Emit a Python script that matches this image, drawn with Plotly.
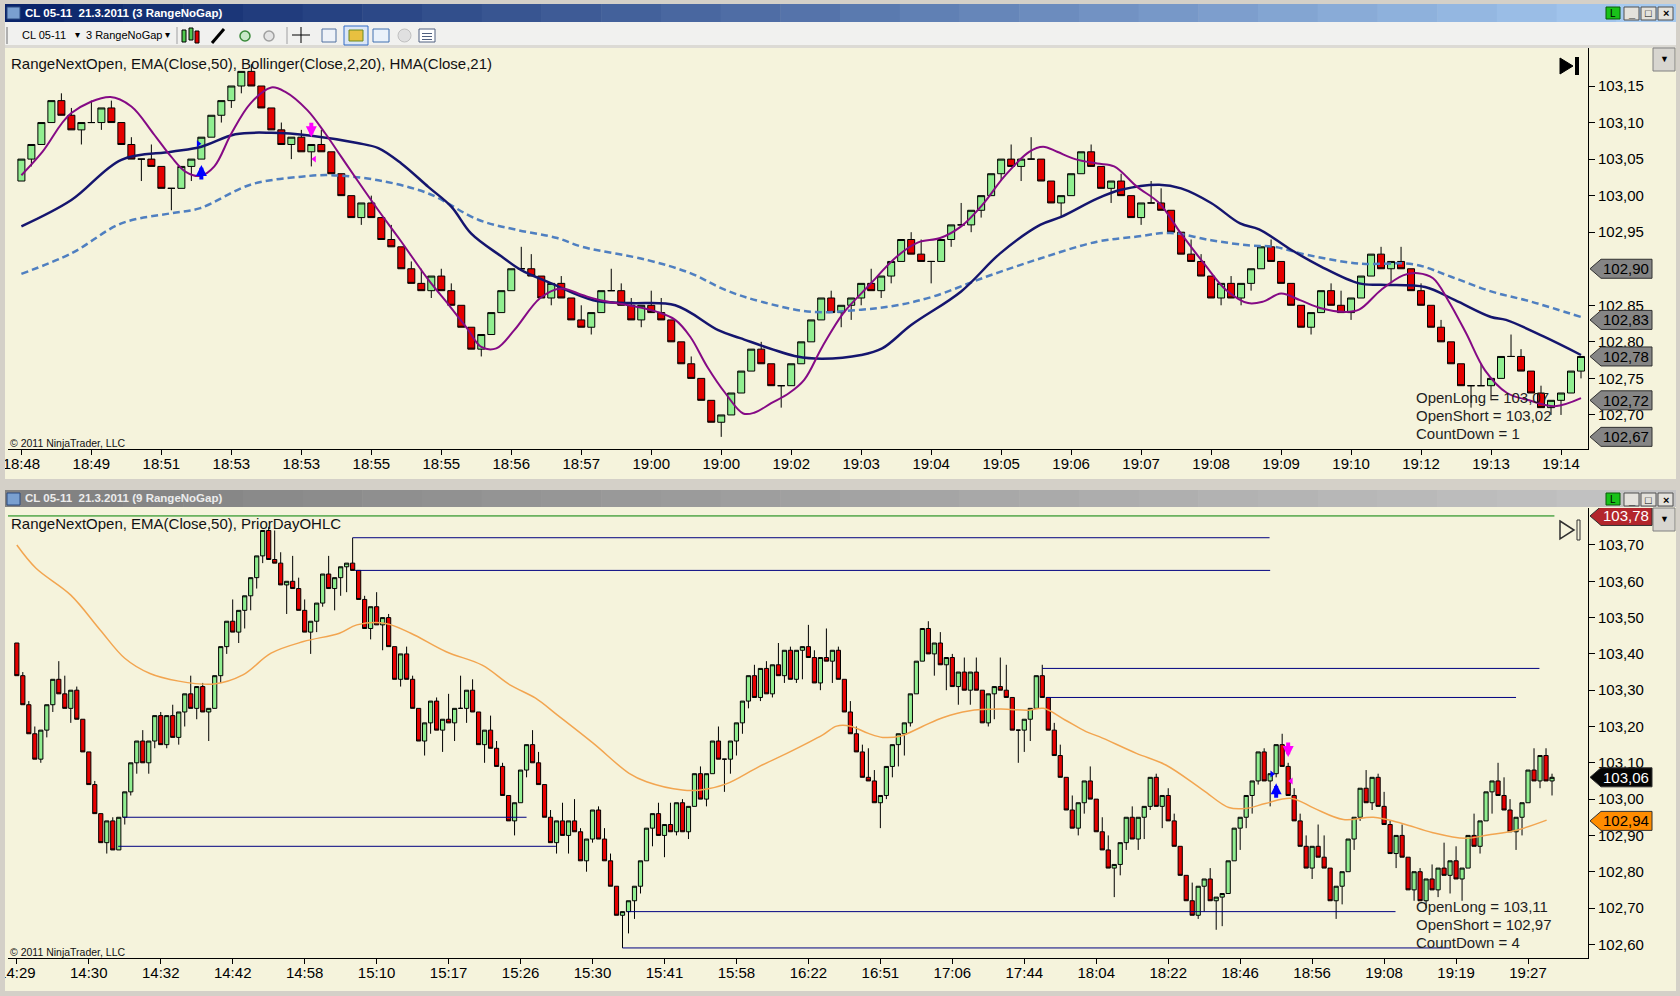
import plotly.graph_objects as go

W, H = 1680, 996
FONT = "Arial, 'Liberation Sans', sans-serif"
CREAM = "#f5f3dc"
GRAY = "#d4d0c8"
UP_FILL = "#90ee90"
DOWN_FILL = "#e60000"

# ---------------- top window: CL 05-11 (3 RangeNoGap) ----------------
top_open = [
    103.02, 103.05, 103.07, 103.10, 103.13, 103.11, 103.09, 103.10, 103.10, 103.12,
    103.10, 103.07, 103.05, 103.05, 103.04, 103.01, 103.01, 103.04, 103.05, 103.08,
    103.11, 103.13, 103.15, 103.17, 103.15, 103.12, 103.09, 103.07, 103.08, 103.06,
    103.07, 103.06, 103.03, 103.00, 102.97, 102.99, 102.97, 102.94, 102.93, 102.90,
    102.88, 102.87, 102.89, 102.87, 102.85, 102.82, 102.79, 102.81, 102.84, 102.87,
    102.90, 102.90, 102.89, 102.86, 102.88, 102.86, 102.83, 102.82, 102.84, 102.87,
    102.87, 102.85, 102.83, 102.85, 102.84, 102.83, 102.80, 102.77, 102.75, 102.72,
    102.69, 102.70, 102.73, 102.76, 102.79, 102.77, 102.74, 102.74, 102.77, 102.80,
    102.83, 102.86, 102.84, 102.85, 102.86, 102.88, 102.87, 102.89, 102.91, 102.94,
    102.92, 102.91, 102.91, 102.94, 102.96, 102.96, 102.98, 103.00, 103.03, 103.05,
    103.04, 103.05, 103.05, 103.02, 102.99, 103.00, 103.03, 103.06, 103.04, 103.01,
    103.02, 103.00, 102.97, 102.99, 102.99, 102.98, 102.95, 102.92, 102.91, 102.89,
    102.86, 102.88, 102.86, 102.88, 102.90, 102.93, 102.91, 102.88, 102.85, 102.82,
    102.84, 102.87, 102.85, 102.84, 102.86, 102.89, 102.92, 102.90, 102.91, 102.90,
    102.87, 102.85, 102.82, 102.80, 102.77, 102.74, 102.74, 102.74, 102.75, 102.78,
    102.78, 102.76, 102.73, 102.71, 102.72, 102.73, 102.76,
]
top_high = [
    103.05, 103.07, 103.10, 103.13, 103.14, 103.12, 103.10, 103.13, 103.12, 103.13,
    103.10, 103.08, 103.05, 103.07, 103.04, 103.01, 103.04, 103.05, 103.08, 103.11,
    103.13, 103.15, 103.17, 103.18, 103.15, 103.12, 103.10, 103.08, 103.09, 103.07,
    103.09, 103.06, 103.03, 103.00, 102.99, 103.00, 102.97, 102.96, 102.93, 102.91,
    102.90, 102.89, 102.90, 102.88, 102.85, 102.82, 102.81, 102.84, 102.87, 102.90,
    102.93, 102.92, 102.89, 102.88, 102.89, 102.86, 102.85, 102.84, 102.87, 102.90,
    102.88, 102.86, 102.85, 102.87, 102.86, 102.83, 102.80, 102.78, 102.75, 102.72,
    102.70, 102.73, 102.76, 102.79, 102.80, 102.77, 102.74, 102.77, 102.80, 102.83,
    102.86, 102.87, 102.85, 102.86, 102.88, 102.90, 102.89, 102.91, 102.94, 102.95,
    102.94, 102.91, 102.94, 102.96, 102.99, 102.98, 103.00, 103.03, 103.05, 103.07,
    103.05, 103.08, 103.05, 103.02, 103.00, 103.03, 103.06, 103.07, 103.04, 103.02,
    103.03, 103.00, 102.99, 103.02, 103.01, 102.98, 102.95, 102.94, 102.92, 102.89,
    102.88, 102.89, 102.88, 102.90, 102.93, 102.94, 102.91, 102.88, 102.85, 102.84,
    102.87, 102.88, 102.87, 102.86, 102.89, 102.92, 102.93, 102.91, 102.93, 102.90,
    102.88, 102.85, 102.83, 102.80, 102.77, 102.74, 102.77, 102.75, 102.78, 102.81,
    102.79, 102.76, 102.74, 102.72, 102.73, 102.76, 102.78,
]
top_low = [
    103.02, 103.04, 103.07, 103.10, 103.11, 103.09, 103.07, 103.10, 103.09, 103.10,
    103.07, 103.05, 103.02, 103.04, 103.01, 102.98, 103.01, 103.02, 103.05, 103.08,
    103.10, 103.12, 103.14, 103.15, 103.12, 103.09, 103.07, 103.05, 103.06, 103.04,
    103.06, 103.03, 103.00, 102.97, 102.96, 102.97, 102.94, 102.93, 102.90, 102.88,
    102.87, 102.86, 102.87, 102.85, 102.82, 102.79, 102.78, 102.81, 102.84, 102.87,
    102.90, 102.89, 102.86, 102.85, 102.86, 102.83, 102.82, 102.81, 102.84, 102.87,
    102.85, 102.83, 102.82, 102.84, 102.83, 102.80, 102.77, 102.75, 102.72, 102.69,
    102.67, 102.70, 102.73, 102.76, 102.77, 102.74, 102.71, 102.74, 102.77, 102.80,
    102.83, 102.84, 102.82, 102.83, 102.85, 102.87, 102.86, 102.88, 102.91, 102.92,
    102.91, 102.88, 102.91, 102.93, 102.96, 102.95, 102.97, 103.00, 103.02, 103.04,
    103.02, 103.05, 103.02, 102.99, 102.97, 103.00, 103.03, 103.04, 103.01, 102.99,
    103.00, 102.97, 102.96, 102.99, 102.98, 102.95, 102.92, 102.91, 102.89, 102.86,
    102.85, 102.86, 102.85, 102.87, 102.90, 102.91, 102.88, 102.85, 102.82, 102.81,
    102.84, 102.85, 102.84, 102.83, 102.86, 102.89, 102.90, 102.88, 102.90, 102.87,
    102.85, 102.82, 102.80, 102.77, 102.74, 102.71, 102.74, 102.72, 102.75, 102.78,
    102.76, 102.73, 102.71, 102.70, 102.70, 102.73, 102.75,
]
top_close = [
    103.05, 103.07, 103.10, 103.13, 103.11, 103.09, 103.10, 103.10, 103.12, 103.10,
    103.07, 103.05, 103.05, 103.04, 103.01, 103.01, 103.04, 103.05, 103.08, 103.11,
    103.13, 103.15, 103.17, 103.15, 103.12, 103.09, 103.07, 103.08, 103.06, 103.07,
    103.06, 103.03, 103.00, 102.97, 102.99, 102.97, 102.94, 102.93, 102.90, 102.88,
    102.87, 102.89, 102.87, 102.85, 102.82, 102.79, 102.81, 102.84, 102.87, 102.90,
    102.90, 102.89, 102.86, 102.88, 102.86, 102.83, 102.82, 102.84, 102.87, 102.87,
    102.85, 102.83, 102.85, 102.84, 102.83, 102.80, 102.77, 102.75, 102.72, 102.69,
    102.70, 102.73, 102.76, 102.79, 102.77, 102.74, 102.74, 102.77, 102.80, 102.83,
    102.86, 102.84, 102.85, 102.86, 102.88, 102.87, 102.89, 102.91, 102.94, 102.92,
    102.91, 102.91, 102.94, 102.96, 102.96, 102.98, 103.00, 103.03, 103.05, 103.04,
    103.05, 103.05, 103.02, 102.99, 103.00, 103.03, 103.06, 103.04, 103.01, 103.02,
    103.00, 102.97, 102.99, 102.99, 102.98, 102.95, 102.92, 102.91, 102.89, 102.86,
    102.88, 102.86, 102.88, 102.90, 102.93, 102.91, 102.88, 102.85, 102.82, 102.84,
    102.87, 102.85, 102.84, 102.86, 102.89, 102.92, 102.90, 102.91, 102.90, 102.87,
    102.85, 102.82, 102.80, 102.77, 102.74, 102.74, 102.74, 102.75, 102.78, 102.78,
    102.76, 102.73, 102.71, 102.72, 102.73, 102.76, 102.78,
]
top_ticktext = ["18:48", "18:49", "18:51", "18:53", "18:53", "18:55", "18:55", "18:56",
                "18:57", "19:00", "19:00", "19:02", "19:03", "19:04", "19:05", "19:06",
                "19:07", "19:08", "19:09", "19:10", "19:12", "19:13", "19:14"]
# 102,90 sits under its price flag, so only the flag shows it
top_yticks = [102.70, 102.75, 102.80, 102.85, 102.95, 103.00, 103.05, 103.10, 103.15]

# indicator readings (bar position, value)
ema50_x = [1, 6, 11, 16, 19, 22.4, 26, 30, 34.6, 36.7, 39, 41.7, 44, 46, 49, 51, 54,
           58.2, 61.8, 66.4, 70.7, 72.9, 78.6, 81.1, 85, 87.1, 90, 95, 98.9, 102.9, 105,
           108.6, 111, 114.8, 117, 120, 122.9, 124.8, 128, 131, 134.8, 137, 141.4, 144.4,
           148, 149.5, 153.3, 157]
ema50_y = [102.958, 102.994, 103.049, 103.060, 103.067, 103.084, 103.086, 103.082, 103.072,
           103.065, 103.044, 103.012, 102.985, 102.948, 102.917, 102.898, 102.880, 102.857,
           102.853, 102.850, 102.816, 102.805, 102.780, 102.777, 102.782, 102.791, 102.823,
           102.869, 102.921, 102.960, 102.971, 102.996, 103.008, 103.015, 103.010, 102.990,
           102.962, 102.954, 102.926, 102.903, 102.880, 102.878, 102.875, 102.857, 102.834,
           102.830, 102.807, 102.782]
boll_x = [1, 6, 11, 16, 18.9, 23.9, 29, 32, 36.7, 41.7, 46.7, 50.6, 54.6, 57.1, 63.6, 67.9,
          71.4, 75, 80, 85, 88.6, 92.2, 97.5, 102.9, 108.6, 112.6, 115.9, 120, 123.7, 126.3,
          129.6, 134.8, 140.3, 144, 148, 152, 157]
boll_y = [102.893, 102.921, 102.962, 102.976, 102.983, 103.015, 103.026, 103.028, 103.021,
          103.003, 102.967, 102.953, 102.942, 102.930, 102.912, 102.894, 102.871, 102.855,
          102.841, 102.844, 102.850, 102.862, 102.889, 102.914, 102.937, 102.944, 102.949,
          102.939, 102.932, 102.930, 102.919, 102.907, 102.906, 102.889, 102.869, 102.855,
          102.834]
hma_x = [1, 3.1, 6, 9.9, 12, 14.2, 16, 17.4, 18.9, 20.3, 22, 23.9, 26, 27.4, 29.6, 31.4, 33,
         34.6, 36.7, 38.9, 41.7, 43.9, 45.6, 47, 48.5, 50.3, 52.9, 55, 57.1, 58.9, 61.8, 64.6,
         66.4, 67.9, 69.6, 71.4, 73.2, 74.3, 76, 77.8, 79.3, 81.1, 83.2, 85.7, 88.6, 90.7,
         92.9, 95, 97.1, 99.3, 101.8, 103.2, 104.6, 106.4, 108.6, 110.3, 112.6, 114.8, 117,
         119.3, 121.5, 123.7, 125.2, 127, 128.9, 131, 133.3, 134.8, 137, 139.2, 140.7, 142.2,
         143.7, 145.5, 147.4, 149.6, 151.8, 154.4, 157]
hma_y = [103.028, 103.060, 103.113, 103.135, 103.122, 103.085, 103.053, 103.033, 103.027,
         103.040, 103.085, 103.126, 103.148, 103.142, 103.117, 103.085, 103.053, 103.021,
         102.980, 102.939, 102.885, 102.848, 102.818, 102.793, 102.791, 102.816, 102.860,
         102.873, 102.864, 102.857, 102.850, 102.841, 102.830, 102.807, 102.766, 102.730,
         102.702, 102.703, 102.716, 102.730, 102.748, 102.793, 102.839, 102.876, 102.917,
         102.936, 102.942, 102.958, 102.987, 103.026, 103.060, 103.067, 103.060, 103.050,
         103.044, 103.040, 103.012, 102.990, 102.948, 102.907, 102.871, 102.853, 102.855,
         102.866, 102.857, 102.846, 102.841, 102.844, 102.871, 102.891, 102.894, 102.887,
         102.857, 102.812, 102.761, 102.730, 102.720, 102.712, 102.723]
top_flags = [102.90, 102.83, 102.78, 102.72, 102.67]

# ---------------- bottom window: CL 05-11 (9 RangeNoGap) ----------------
bot_open = [
    103.43, 103.34, 103.26, 103.18, 103.11, 103.19, 103.26, 103.33, 103.29, 103.25,
    103.30, 103.22, 103.13, 103.04, 102.96, 102.88, 102.94, 102.86, 102.95, 103.02,
    103.10, 103.16, 103.10, 103.16, 103.23, 103.15, 103.23, 103.17, 103.24, 103.29,
    103.25, 103.31, 103.24, 103.25, 103.34, 103.42, 103.49, 103.46, 103.52, 103.56,
    103.61, 103.67, 103.74, 103.66, 103.65, 103.59, 103.60, 103.58, 103.52, 103.46,
    103.49, 103.54, 103.62, 103.58, 103.61, 103.64, 103.65, 103.63, 103.55, 103.47,
    103.53, 103.48, 103.50, 103.42, 103.33, 103.40, 103.33, 103.25, 103.16, 103.21,
    103.27, 103.19, 103.22, 103.21, 103.25, 103.25, 103.30, 103.24, 103.15, 103.19,
    103.14, 103.09, 103.01, 102.94, 102.99, 103.08, 103.15, 103.10, 103.04, 102.95,
    102.88, 102.94, 102.90, 102.94, 102.91, 102.83, 102.89, 102.97, 102.89, 102.83,
    102.76, 102.68, 102.69, 102.72, 102.76, 102.83, 102.92, 102.96, 102.90, 102.93,
    102.91, 102.99, 102.91, 102.98, 103.07, 103.00, 103.07, 103.16, 103.11, 103.11,
    103.16, 103.21, 103.27, 103.34, 103.28, 103.36, 103.29, 103.37, 103.34, 103.41,
    103.33, 103.41, 103.42, 103.39, 103.32, 103.39, 103.38, 103.41, 103.33, 103.24,
    103.18, 103.13, 103.06, 103.05, 102.99, 103.01, 103.09, 103.15, 103.18, 103.21,
    103.29, 103.38, 103.47, 103.40, 103.43, 103.37, 103.39, 103.31, 103.35, 103.30,
    103.35, 103.30, 103.21, 103.29, 103.31, 103.30, 103.28, 103.19, 103.19, 103.22,
    103.25, 103.34, 103.28, 103.19, 103.12, 103.06, 102.97, 102.92, 102.99, 103.05,
    103.00, 102.91, 102.86, 102.81, 102.82, 102.88, 102.95, 102.89, 102.95, 102.98,
    103.06, 102.98, 103.01, 102.94, 102.87, 102.79, 102.72, 102.68, 102.76, 102.78,
    102.72, 102.73, 102.74, 102.83, 102.92, 102.95, 103.01, 103.05, 103.13, 103.05,
    103.07, 103.15, 103.09, 103.01, 102.94, 102.87, 102.81, 102.87, 102.84, 102.81,
    102.72, 102.76, 102.80, 102.89, 102.95, 103.03, 102.99, 103.06, 102.98, 102.93,
    102.85, 102.90, 102.84, 102.75, 102.80, 102.72, 102.78, 102.75, 102.81, 102.79,
    102.83, 102.78, 102.81, 102.90, 102.87, 102.94, 103.02, 103.05, 103.01, 102.97,
    102.91, 102.95, 102.99, 103.08, 103.05, 103.12, 103.05,
]
bot_high = [
    103.43, 103.35, 103.27, 103.20, 103.19, 103.26, 103.33, 103.38, 103.34, 103.30,
    103.31, 103.22, 103.13, 103.05, 102.96, 102.94, 102.95, 102.95, 103.02, 103.10,
    103.16, 103.19, 103.16, 103.23, 103.24, 103.23, 103.26, 103.24, 103.29, 103.34,
    103.31, 103.32, 103.25, 103.34, 103.42, 103.49, 103.55, 103.52, 103.56, 103.61,
    103.67, 103.74, 103.75, 103.74, 103.68, 103.60, 103.67, 103.61, 103.55, 103.49,
    103.54, 103.62, 103.67, 103.61, 103.64, 103.65, 103.72, 103.63, 103.56, 103.53,
    103.57, 103.50, 103.51, 103.42, 103.40, 103.42, 103.34, 103.25, 103.21, 103.27,
    103.28, 103.22, 103.29, 103.25, 103.34, 103.30, 103.33, 103.24, 103.19, 103.23,
    103.16, 103.10, 103.01, 102.99, 103.08, 103.15, 103.19, 103.13, 103.04, 102.97,
    102.94, 102.99, 102.94, 103.00, 102.92, 102.89, 102.97, 102.98, 102.92, 102.85,
    102.76, 102.69, 102.72, 102.76, 102.83, 102.92, 102.96, 102.99, 102.93, 102.99,
    102.99, 103.00, 102.98, 103.07, 103.09, 103.07, 103.16, 103.20, 103.11, 103.16,
    103.21, 103.27, 103.34, 103.37, 103.36, 103.38, 103.37, 103.43, 103.41, 103.42,
    103.41, 103.42, 103.48, 103.41, 103.39, 103.47, 103.41, 103.42, 103.33, 103.27,
    103.20, 103.15, 103.14, 103.08, 103.01, 103.09, 103.15, 103.18, 103.21, 103.29,
    103.38, 103.47, 103.49, 103.43, 103.46, 103.39, 103.40, 103.35, 103.39, 103.35,
    103.39, 103.30, 103.29, 103.31, 103.39, 103.37, 103.28, 103.19, 103.22, 103.25,
    103.34, 103.37, 103.28, 103.21, 103.15, 103.06, 103.01, 102.99, 103.05, 103.09,
    103.00, 102.95, 102.90, 102.82, 102.88, 102.95, 102.98, 102.95, 102.98, 103.06,
    103.07, 103.01, 103.03, 102.96, 102.87, 102.79, 102.77, 102.76, 102.78, 102.81,
    102.73, 102.74, 102.83, 102.92, 102.95, 103.01, 103.05, 103.13, 103.14, 103.07,
    103.15, 103.18, 103.10, 103.03, 102.96, 102.90, 102.87, 102.93, 102.90, 102.81,
    102.76, 102.80, 102.89, 102.95, 103.03, 103.08, 103.06, 103.07, 103.02, 102.94,
    102.90, 102.93, 102.84, 102.80, 102.81, 102.78, 102.82, 102.81, 102.88, 102.83,
    102.87, 102.81, 102.90, 102.96, 102.94, 103.02, 103.05, 103.10, 103.06, 103.00,
    102.95, 102.99, 103.08, 103.14, 103.12, 103.14, 103.07,
]
bot_low = [
    103.34, 103.26, 103.18, 103.11, 103.10, 103.17, 103.24, 103.29, 103.25, 103.21,
    103.22, 103.13, 103.04, 102.96, 102.88, 102.85, 102.86, 102.86, 102.93, 103.01,
    103.07, 103.10, 103.07, 103.14, 103.15, 103.14, 103.17, 103.15, 103.20, 103.25,
    103.22, 103.24, 103.16, 103.25, 103.32, 103.40, 103.46, 103.43, 103.47, 103.52,
    103.58, 103.65, 103.66, 103.65, 103.59, 103.51, 103.58, 103.52, 103.46, 103.40,
    103.46, 103.53, 103.58, 103.52, 103.56, 103.57, 103.63, 103.55, 103.47, 103.44,
    103.48, 103.41, 103.42, 103.33, 103.31, 103.33, 103.25, 103.16, 103.12, 103.18,
    103.19, 103.13, 103.21, 103.16, 103.25, 103.21, 103.24, 103.15, 103.10, 103.14,
    103.09, 103.01, 102.94, 102.90, 102.99, 103.06, 103.10, 103.04, 102.95, 102.88,
    102.85, 102.90, 102.85, 102.91, 102.83, 102.80, 102.88, 102.89, 102.83, 102.76,
    102.68, 102.59, 102.63, 102.67, 102.74, 102.83, 102.87, 102.90, 102.84, 102.91,
    102.90, 102.91, 102.89, 102.98, 103.00, 102.98, 103.07, 103.11, 103.02, 103.07,
    103.12, 103.18, 103.25, 103.28, 103.27, 103.29, 103.28, 103.34, 103.32, 103.33,
    103.32, 103.33, 103.39, 103.32, 103.30, 103.38, 103.32, 103.33, 103.24, 103.18,
    103.13, 103.06, 103.05, 102.99, 102.92, 103.00, 103.06, 103.09, 103.12, 103.20,
    103.29, 103.38, 103.40, 103.34, 103.37, 103.30, 103.31, 103.26, 103.30, 103.26,
    103.30, 103.21, 103.20, 103.22, 103.30, 103.28, 103.19, 103.10, 103.13, 103.16,
    103.25, 103.28, 103.19, 103.12, 103.06, 102.97, 102.92, 102.90, 102.96, 103.00,
    102.91, 102.86, 102.81, 102.73, 102.79, 102.86, 102.89, 102.86, 102.89, 102.97,
    102.98, 102.92, 102.94, 102.87, 102.79, 102.72, 102.68, 102.67, 102.69, 102.72,
    102.64, 102.65, 102.74, 102.83, 102.86, 102.92, 102.96, 103.04, 103.05, 102.98,
    103.06, 103.09, 103.01, 102.94, 102.87, 102.81, 102.78, 102.84, 102.81, 102.72,
    102.67, 102.71, 102.80, 102.86, 102.94, 102.99, 102.97, 102.98, 102.93, 102.85,
    102.81, 102.84, 102.75, 102.72, 102.72, 102.70, 102.75, 102.73, 102.79, 102.74,
    102.78, 102.72, 102.81, 102.87, 102.85, 102.94, 102.96, 103.01, 102.97, 102.91,
    102.86, 102.90, 102.99, 103.05, 103.03, 103.05, 103.01,
]
bot_close = [
    103.34, 103.26, 103.18, 103.11, 103.19, 103.26, 103.33, 103.29, 103.25, 103.30,
    103.22, 103.13, 103.04, 102.96, 102.88, 102.94, 102.86, 102.95, 103.02, 103.10,
    103.16, 103.10, 103.16, 103.23, 103.15, 103.23, 103.17, 103.24, 103.29, 103.25,
    103.31, 103.24, 103.25, 103.34, 103.42, 103.49, 103.46, 103.52, 103.56, 103.61,
    103.67, 103.74, 103.66, 103.65, 103.59, 103.60, 103.58, 103.52, 103.46, 103.49,
    103.54, 103.62, 103.58, 103.61, 103.64, 103.65, 103.63, 103.55, 103.47, 103.53,
    103.48, 103.50, 103.42, 103.33, 103.40, 103.33, 103.25, 103.16, 103.21, 103.27,
    103.19, 103.22, 103.21, 103.25, 103.25, 103.30, 103.24, 103.15, 103.19, 103.14,
    103.09, 103.01, 102.94, 102.99, 103.08, 103.15, 103.10, 103.04, 102.95, 102.88,
    102.94, 102.90, 102.94, 102.91, 102.83, 102.89, 102.97, 102.89, 102.83, 102.76,
    102.68, 102.69, 102.72, 102.76, 102.83, 102.92, 102.96, 102.90, 102.93, 102.91,
    102.99, 102.91, 102.98, 103.07, 103.00, 103.07, 103.16, 103.11, 103.11, 103.16,
    103.21, 103.27, 103.34, 103.28, 103.36, 103.29, 103.37, 103.34, 103.41, 103.33,
    103.41, 103.42, 103.39, 103.32, 103.39, 103.38, 103.41, 103.33, 103.24, 103.18,
    103.13, 103.06, 103.05, 102.99, 103.01, 103.09, 103.15, 103.18, 103.21, 103.29,
    103.38, 103.47, 103.40, 103.43, 103.37, 103.39, 103.31, 103.35, 103.30, 103.35,
    103.30, 103.21, 103.29, 103.31, 103.30, 103.28, 103.19, 103.19, 103.22, 103.25,
    103.34, 103.28, 103.19, 103.12, 103.06, 102.97, 102.92, 102.99, 103.05, 103.00,
    102.91, 102.86, 102.81, 102.82, 102.88, 102.95, 102.89, 102.95, 102.98, 103.06,
    102.98, 103.01, 102.94, 102.87, 102.79, 102.72, 102.68, 102.76, 102.78, 102.72,
    102.73, 102.74, 102.83, 102.92, 102.95, 103.01, 103.05, 103.13, 103.05, 103.07,
    103.15, 103.09, 103.01, 102.94, 102.87, 102.81, 102.87, 102.84, 102.81, 102.72,
    102.76, 102.80, 102.89, 102.95, 103.03, 102.99, 103.06, 102.98, 102.93, 102.85,
    102.90, 102.84, 102.75, 102.80, 102.72, 102.78, 102.75, 102.81, 102.79, 102.83,
    102.78, 102.81, 102.90, 102.87, 102.94, 103.02, 103.05, 103.01, 102.97, 102.91,
    102.95, 102.99, 103.08, 103.05, 103.12, 103.05, 103.06,
]
bot_ticktext = ["14:29", "14:30", "14:32", "14:42", "14:58", "15:10", "15:17", "15:26",
                "15:30", "15:41", "15:58", "16:22", "16:51", "17:06", "17:44", "18:04",
                "18:22", "18:46", "18:56", "19:08", "19:19", "19:27"]
bot_yticks = [102.60, 102.70, 102.80, 102.90, 103.00, 103.10, 103.20, 103.30, 103.40,
              103.50, 103.60, 103.70]

bot_ema_x = [1, 4.2, 10, 14.9, 19, 23.2, 28, 33.9, 38.7, 43.4, 48.8, 54.8, 57.7, 62.5, 66.7,
             72.6, 78.6, 83.3, 87.5, 91.1, 97.1, 103.1, 106, 112, 115, 119.3, 124.7, 129.4,
             135.4, 137.7, 140, 143, 145.4, 148.4, 152, 155.5, 159.7, 165, 169.8, 172.2,
             175.8, 179.3, 181.5, 187.7, 192.6, 198.8, 203.1, 206.2, 209.2, 213.6, 217.3,
             222.2, 227.2, 232, 237, 242.5, 246.3, 251.2, 256.1]
bot_ema_y = [103.700, 103.636, 103.562, 103.466, 103.388, 103.346, 103.325, 103.317, 103.342,
             103.402, 103.434, 103.457, 103.480, 103.484, 103.457, 103.406, 103.369, 103.314,
             103.278, 103.232, 103.154, 103.071, 103.048, 103.025, 103.025, 103.042, 103.089,
             103.126, 103.177, 103.201, 103.201, 103.181, 103.170, 103.174, 103.200, 103.225,
             103.243, 103.248, 103.245, 103.250, 103.218, 103.186, 103.172, 103.126, 103.094,
             103.025, 102.977, 102.975, 102.988, 103.002, 102.975, 102.944, 102.950, 102.933,
             102.908, 102.892, 102.901, 102.915, 102.942]

# PriorDayOHLC / swing levels drawn on the 9-range chart
level_price = [103.78, 103.72, 103.63, 102.95, 102.87, 103.36, 103.28, 102.69, 102.59]
level_from = [-0.47, 57, 57.4, 18.7, 17.9, 172, 172.7, 102.8, 102]
level_to = [257.4, 209.9, 210, 86, 90.9, 254.9, 251, 230.9, 240]
level_color = ["#008000"] + ["#000080"] * 8
bot_flags = [103.78, 103.06, 102.94]


def fx(x):
    return x / W


def fy(y):
    return 1 - y / H


def comma(v):
    return f"{v:.2f}".replace(".", ",")


fig = go.Figure()

fig.add_trace(go.Candlestick(
    x=list(range(1, len(top_close) + 1)), open=top_open, high=top_high, low=top_low,
    close=top_close, xaxis="x", yaxis="y", whiskerwidth=0, hoverinfo="skip",
    increasing=dict(fillcolor=UP_FILL, line=dict(color="black", width=1)),
    decreasing=dict(fillcolor=DOWN_FILL, line=dict(color="black", width=1)),
))
fig.add_trace(go.Scatter(x=boll_x, y=boll_y, mode="lines", xaxis="x", yaxis="y",
                         line=dict(color="#4f7fc0", width=2.5, dash="7px,4px", shape="spline")))
fig.add_trace(go.Scatter(x=ema50_x, y=ema50_y, mode="lines", xaxis="x", yaxis="y",
                         line=dict(color="#15156e", width=2.5, shape="spline")))
fig.add_trace(go.Scatter(x=hma_x, y=hma_y, mode="lines", xaxis="x", yaxis="y",
                         line=dict(color="#850a85", width=2, shape="spline")))

fig.add_trace(go.Candlestick(
    x=list(range(1, len(bot_close) + 1)), open=bot_open, high=bot_high, low=bot_low,
    close=bot_close, xaxis="x2", yaxis="y2", whiskerwidth=0, hoverinfo="skip",
    increasing=dict(fillcolor=UP_FILL, line=dict(color="black", width=1)),
    decreasing=dict(fillcolor=DOWN_FILL, line=dict(color="black", width=1)),
))
fig.add_trace(go.Scatter(x=bot_ema_x, y=bot_ema_y, mode="lines", xaxis="x2", yaxis="y2",
                         line=dict(color="#f2a550", width=1.5, shape="spline")))
for p, a, b, c in zip(level_price, level_from, level_to, level_color):
    fig.add_trace(go.Scatter(x=[a, b], y=[p, p], mode="lines", xaxis="x2", yaxis="y2",
                             line=dict(color=c, width=1)))

# small entry markers
fig.add_trace(go.Scatter(x=[18.7], y=[103.071], mode="markers", xaxis="x", yaxis="y",
                         marker=dict(symbol="triangle-right", size=6, color="#0000ff")))
fig.add_trace(go.Scatter(x=[30.3], y=[103.05], mode="markers", xaxis="x", yaxis="y",
                         marker=dict(symbol="triangle-left", size=6, color="#ff00ff")))
fig.add_trace(go.Scatter(x=[210.3], y=[103.069], mode="markers", xaxis="x2", yaxis="y2",
                         marker=dict(symbol="triangle-right", size=6, color="#0000ff")))
fig.add_trace(go.Scatter(x=[213.5], y=[103.05], mode="markers", xaxis="x2", yaxis="y2",
                         marker=dict(symbol="triangle-left", size=6, color="#ff00ff")))

for xr, yr, xv, yv, ay, col in [("x", "y", 19, 103.042, 16, "#0000ff"),
                                ("x", "y", 30, 103.080, -16, "#ff00ff"),
                                ("x2", "y2", 211, 103.044, 16, "#0000ff"),
                                ("x2", "y2", 213, 103.116, -16, "#ff00ff")]:
    fig.add_annotation(x=xv, y=yv, xref=xr, yref=yr, text="", showarrow=True, ax=0, ay=ay,
                       arrowhead=2, arrowsize=0.55, arrowwidth=4, arrowcolor=col)

axis_font = dict(family=FONT, size=15, color="black")
common_x = dict(showgrid=False, zeroline=False, showline=True, linecolor="black", linewidth=1,
                ticks="outside", ticklen=5, tickcolor="black", tickfont=axis_font,
                rangeslider=dict(visible=False), fixedrange=True, automargin=False,
                ticklabelstandoff=-4, ticklabeloverflow="allow")
common_y = dict(showgrid=False, zeroline=False, showline=True, linecolor="black", linewidth=1,
                side="right", ticks="outside", ticklen=6, tickcolor="black",
                tickfont=axis_font, tickformat=".2f", fixedrange=True, automargin=False)

fig.update_layout(
    width=W, height=H, margin=dict(l=0, r=0, t=0, b=0, pad=0, autoexpand=False),
    paper_bgcolor=GRAY, plot_bgcolor=CREAM, separators=",.", showlegend=False,
    boxgap=0.3, boxgroupgap=0,
    xaxis=dict(common_x, domain=[fx(8), fx(1588)], range=[-0.34, 157.7], anchor="y",
               tickvals=list(range(1, 157, 7)), ticktext=top_ticktext),
    yaxis=dict(common_y, domain=[fy(449), fy(48)], range=[102.6534, 103.202], anchor="x",
               tickvals=top_yticks),
    xaxis2=dict(common_x, domain=[fx(8), fx(1588)], range=[-0.47, 263], anchor="y2",
                tickvals=list(range(1, 258, 12)), ticktext=bot_ticktext),
    yaxis2=dict(common_y, domain=[fy(958), fy(508)], range=[102.5623, 103.8019], anchor="x2",
                tickvals=bot_yticks),
)


# ---------------- window chrome ----------------
def rect(x0, y0, x1, y1, fill, line=None, layer="below", width=1):
    fig.add_shape(type="rect", xref="paper", yref="paper", x0=fx(x0), x1=fx(x1),
                  y0=fy(y0), y1=fy(y1), fillcolor=fill, layer=layer,
                  line=dict(color=line or fill, width=width if line else 0))


def text(x, y, s, size=15, color="#111111", anchor="left", bold=False, family=FONT):
    if bold:
        s = "<b>" + s + "</b>"
    fig.add_annotation(x=fx(x), y=fy(y), xref="paper", yref="paper", text=s, showarrow=False,
                       xanchor=anchor, yanchor="middle",
                       font=dict(family=family, size=size, color=color))


def gradient(x0, x1, y0, y1, c0, c1, n=28):
    step = (x1 - x0) / n
    for i in range(n):
        t = i / (n - 1)
        col = "#%02x%02x%02x" % tuple(int(c0[k] + (c1[k] - c0[k]) * t) for k in range(3))
        rect(x0 + i * step, y0, x0 + (i + 1) * step + 0.5, y1, col)


# chart backgrounds
rect(4, 48, 1676, 479, CREAM)
rect(4, 507, 1676, 993, CREAM)
# title bars
gradient(4, 1676, 4, 22, (10, 36, 106), (166, 202, 240))
gradient(4, 1676, 490, 507, (128, 128, 128), (196, 196, 196))
# toolbar
rect(4, 22, 1676, 48, "#f1f1ef")
rect(4, 45, 1676, 48, "#dcdad4")
text(23, 13, "CL 05-11  21.3.2011 (3 RangeNoGap)", size=11.5, color="white", bold=True)
text(23, 498, "CL 05-11  21.3.2011 (9 RangeNoGap)", size=11.5, color="#ececec", bold=True)
for ty in (7, 493):
    rect(7, ty, 20, ty + 12, "#7aa0d0", line="#2a4a80")
    rect(1606, ty, 1620, ty + 12, "#19c219", line="#0a5a0a")
    text(1613, ty + 6, "L", size=10, color="black", anchor="center")
    for bx, glyph in ((1624, "_"), (1641, "□"), (1658, "×")):
        rect(bx, ty, bx + 15, ty + 13, "#e4e2dc", line="#505050")
        text(bx + 7.5, ty + 6.5, glyph, size=11, color="black", anchor="center", bold=True)

# toolbar items
rect(6, 27, 8, 44, "#b0b0b0")
text(20, 35, "CL 05-11", size=11, color="black")
text(73, 35, "▾", size=10, color="black")
text(84, 35, "3 RangeNoGap", size=11, color="black")
text(163, 35, "▾", size=10, color="black")
rect(176, 27, 178, 44, "#c8c8c8")
rect(182, 30, 186, 42, "#4fc84f", line="black")
rect(189, 28, 193, 40, "#4fc84f", line="black")
rect(195, 31, 199, 43, "#e00000", line="black")
fig.add_shape(type="line", xref="paper", yref="paper", x0=fx(212), y0=fy(43), x1=fx(224),
              y1=fy(29), line=dict(color="black", width=3), layer="below")
fig.add_shape(type="circle", xref="paper", yref="paper", x0=fx(240), y0=fy(41), x1=fx(250),
              y1=fy(31), fillcolor="#c8e8c8", line=dict(color="#3a8a3a", width=1.5), layer="below")
fig.add_shape(type="circle", xref="paper", yref="paper", x0=fx(264), y0=fy(41), x1=fx(274),
              y1=fy(31), fillcolor="#e4e4e4", line=dict(color="#a0a0a0", width=1.5), layer="below")
rect(286, 27, 288, 44, "#c8c8c8")
rect(292, 34.5, 310, 35.5, "black")
rect(300.5, 27, 301.5, 43, "black")
rect(322, 29, 336, 42, "#eef2f8", line="#5070a0")
rect(344, 26, 368, 45, "#dbe6f6", line="#316ac5")
rect(349, 30, 363, 41, "#e8c040", line="#6a8a20")
rect(373, 29, 389, 42, "#eaf2fa", line="#4070b0")
fig.add_shape(type="circle", xref="paper", yref="paper", x0=fx(398), y0=fy(42), x1=fx(411),
              y1=fy(29), fillcolor="#e0e0e0", line=dict(color="#c0c0c0", width=1), layer="below")
rect(419, 29, 435, 42, "#ffffff", line="#506080")
for ly in (33, 36, 39):
    rect(422, ly, 432, ly + 1, "#506080")

# right column drop-down buttons
for by in (48, 508):
    rect(1653, by, 1675, by + 23, "#d8d6d0", line="#808080")
    text(1664, by + 11, "▼", size=9, color="black", anchor="center")
# separator and outer frame (the frame also clips the first time label, as on screen)
rect(0, 479, 1680, 490, GRAY, layer="above")
rect(0, 0, 5, 996, GRAY, layer="above")
rect(1676, 0, 1680, 996, GRAY, layer="above")
rect(0, 991, 1680, 996, GRAY, layer="above")

# "go to last bar" icons
fig.add_shape(type="path", xref="paper", yref="paper", layer="above",
              path=f"M {fx(1560)},{fy(58)} L {fx(1573)},{fy(66)} L {fx(1560)},{fy(74)} Z",
              fillcolor="black", line=dict(color="black", width=1))
rect(1575, 57, 1579, 75, "black", layer="above")
fig.add_shape(type="path", xref="paper", yref="paper", layer="above",
              path=f"M {fx(1560)},{fy(521)} L {fx(1574)},{fy(530)} L {fx(1560)},{fy(539)} Z",
              fillcolor="rgba(0,0,0,0)", line=dict(color="#303030", width=1.5))
rect(1577, 520, 1580, 540, "rgba(0,0,0,0)", line="#303030", layer="above")

# indicator captions and copyright
text(9, 63, "RangeNextOpen, EMA(Close,50), Bollinger(Close,2,20), HMA(Close,21)")
text(9, 523, "RangeNextOpen, EMA(Close,50), PriorDayOHLC")
text(8, 443, "© 2011 NinjaTrader, LLC", size=10.5)
text(8, 952, "© 2011 NinjaTrader, LLC", size=10.5)
for i, s in enumerate(["OpenLong = 103,07", "OpenShort = 103,02", "CountDown = 1"]):
    text(1414, 397 + 18 * i, s, size=15, color="#1e1e1e")
for i, s in enumerate(["OpenLong = 103,11", "OpenShort = 102,97", "CountDown = 4"]):
    text(1414, 906 + 18 * i, s, size=15, color="#1e1e1e")


# price flags on the axis
def flag(yref, price, fill, fcolor):
    fig.add_shape(type="path", xref="paper", yref=yref, xsizemode="pixel", ysizemode="pixel",
                  xanchor=fx(1588), yanchor=price, layer="above",
                  path="M 2,0 L 13,9.5 L 64,9.5 L 64,-9.5 L 13,-9.5 Z",
                  fillcolor=fill, line=dict(color="#303030", width=1))
    fig.add_annotation(x=fx(1626), y=price, xref="paper", yref=yref, text=comma(price),
                       showarrow=False, xanchor="center", yanchor="middle",
                       font=dict(family=FONT, size=15, color=fcolor))


for v in top_flags:
    flag("y", v, "#858585", "black")
for v, fill, fc in zip(bot_flags, ["#b3262c", "#050505", "#ff8c00"], ["white", "white", "black"]):
    flag("y2", v, fill, fc)

fig.write_html("out.html", config={"displayModeBar": False},
               post_script="document.body.style.margin='0px';")
